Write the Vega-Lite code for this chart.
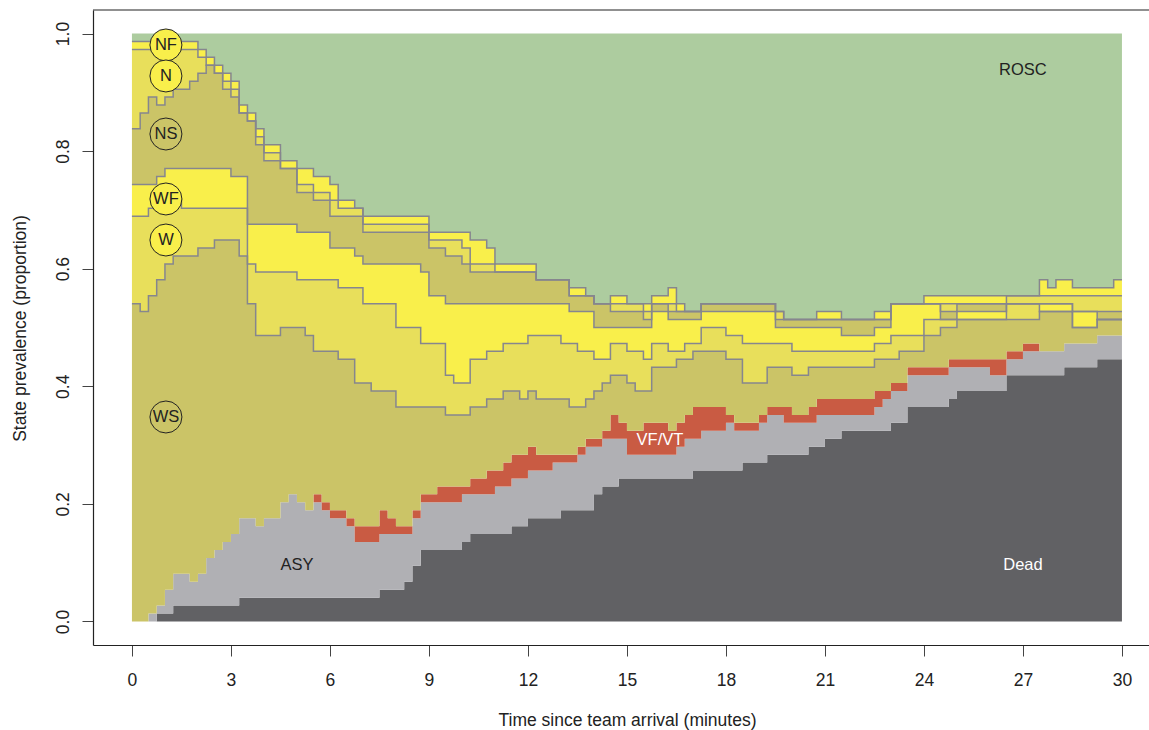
{
  "$schema": "https://vega.github.io/schema/vega-lite/v6.json",
  "width": 1056,
  "height": 635,
  "autosize": {"type": "none"},
  "padding": {"left": 93, "top": 10, "right": 0, "bottom": 85},
  "background": "white",
  "config": {"view": {"stroke": null}, "font": "Liberation Sans"},
  "datasets": {
    "prev": [
      {"t":0,"Dead":0,"ASY":0,"VF":0,"WS":40,"W":11,"WF":4,"NS":7,"N":10,"NF":1,"ROSC":1},
      {"t":0.25,"Dead":0,"ASY":0,"VF":0,"WS":39,"W":12,"WF":4,"NS":9,"N":8,"NF":1,"ROSC":1},
      {"t":0.5,"Dead":0,"ASY":1,"VF":0,"WS":40,"W":11,"WF":3,"NS":11,"N":6,"NF":1,"ROSC":1},
      {"t":0.75,"Dead":1,"ASY":1,"VF":0,"WS":41,"W":9,"WF":4,"NS":9,"N":7,"NF":1,"ROSC":1},
      {"t":1,"Dead":1,"ASY":3,"VF":0,"WS":41,"W":8,"WF":4,"NS":9,"N":6,"NF":1,"ROSC":1},
      {"t":1.25,"Dead":2,"ASY":4,"VF":0,"WS":40,"W":7,"WF":4,"NS":10,"N":5,"NF":1,"ROSC":1},
      {"t":1.5,"Dead":2,"ASY":4,"VF":0,"WS":40,"W":6,"WF":5,"NS":10,"N":5,"NF":1,"ROSC":1},
      {"t":1.75,"Dead":2,"ASY":3,"VF":0,"WS":41,"W":6,"WF":5,"NS":11,"N":4,"NF":1,"ROSC":1},
      {"t":2,"Dead":2,"ASY":4,"VF":0,"WS":41,"W":5,"WF":5,"NS":12,"N":2,"NF":1,"ROSC":2},
      {"t":2.25,"Dead":2,"ASY":6,"VF":0,"WS":39,"W":5,"WF":5,"NS":13,"N":0,"NF":1,"ROSC":3},
      {"t":2.5,"Dead":2,"ASY":7,"VF":0,"WS":39,"W":4,"WF":5,"NS":12,"N":0,"NF":1,"ROSC":4},
      {"t":2.75,"Dead":2,"ASY":8,"VF":0,"WS":38,"W":4,"WF":5,"NS":10,"N":1,"NF":1,"ROSC":5},
      {"t":3,"Dead":2,"ASY":9,"VF":0,"WS":37,"W":4,"WF":4,"NS":10,"N":1,"NF":1,"ROSC":6},
      {"t":3.25,"Dead":3,"ASY":10,"VF":0,"WS":33,"W":6,"WF":4,"NS":8,"N":0,"NF":1,"ROSC":9},
      {"t":3.5,"Dead":3,"ASY":10,"VF":0,"WS":27,"W":5,"WF":5,"NS":13,"N":0,"NF":1,"ROSC":10},
      {"t":3.75,"Dead":3,"ASY":9,"VF":0,"WS":24,"W":8,"WF":6,"NS":10,"N":1,"NF":1,"ROSC":12},
      {"t":4,"Dead":3,"ASY":10,"VF":0,"WS":23,"W":8,"WF":6,"NS":8,"N":1,"NF":1,"ROSC":14},
      {"t":4.5,"Dead":3,"ASY":12,"VF":0,"WS":22,"W":7,"WF":6,"NS":7,"N":0,"NF":1,"ROSC":16},
      {"t":4.75,"Dead":3,"ASY":13,"VF":0,"WS":21,"W":7,"WF":6,"NS":7,"N":0,"NF":1,"ROSC":16},
      {"t":5,"Dead":3,"ASY":12,"VF":0,"WS":22,"W":6,"WF":6,"NS":5,"N":1,"NF":2,"ROSC":17},
      {"t":5.25,"Dead":3,"ASY":11,"VF":0,"WS":22,"W":7,"WF":6,"NS":5,"N":1,"NF":2,"ROSC":17},
      {"t":5.5,"Dead":3,"ASY":12,"VF":1,"WS":18,"W":9,"WF":6,"NS":4,"N":1,"NF":2,"ROSC":18},
      {"t":5.75,"Dead":3,"ASY":11,"VF":1,"WS":19,"W":9,"WF":6,"NS":4,"N":1,"NF":2,"ROSC":18},
      {"t":6,"Dead":3,"ASY":10,"VF":1,"WS":20,"W":9,"WF":4,"NS":4,"N":2,"NF":2,"ROSC":19},
      {"t":6.25,"Dead":3,"ASY":10,"VF":1,"WS":19,"W":9,"WF":5,"NS":4,"N":1,"NF":1,"ROSC":21},
      {"t":6.5,"Dead":3,"ASY":9,"VF":1,"WS":20,"W":9,"WF":5,"NS":4,"N":1,"NF":1,"ROSC":21},
      {"t":6.75,"Dead":3,"ASY":7,"VF":2,"WS":18,"W":12,"WF":4,"NS":5,"N":1,"NF":0,"ROSC":22},
      {"t":7,"Dead":3,"ASY":7,"VF":2,"WS":18,"W":10,"WF":5,"NS":4,"N":1,"NF":1,"ROSC":23},
      {"t":7.25,"Dead":3,"ASY":7,"VF":2,"WS":17,"W":11,"WF":5,"NS":4,"N":1,"NF":1,"ROSC":23},
      {"t":7.5,"Dead":4,"ASY":7,"VF":3,"WS":15,"W":11,"WF":5,"NS":4,"N":1,"NF":1,"ROSC":23},
      {"t":7.75,"Dead":4,"ASY":7,"VF":2,"WS":16,"W":11,"WF":5,"NS":4,"N":1,"NF":1,"ROSC":23},
      {"t":8,"Dead":4,"ASY":7,"VF":1,"WS":15,"W":10,"WF":8,"NS":4,"N":1,"NF":1,"ROSC":23},
      {"t":8.25,"Dead":5,"ASY":6,"VF":1,"WS":15,"W":10,"WF":8,"NS":4,"N":1,"NF":1,"ROSC":23},
      {"t":8.5,"Dead":7,"ASY":6,"VF":1,"WS":13,"W":10,"WF":8,"NS":4,"N":1,"NF":1,"ROSC":23},
      {"t":8.75,"Dead":9,"ASY":6,"VF":1,"WS":11,"W":8,"WF":9,"NS":5,"N":1,"NF":1,"ROSC":23},
      {"t":9,"Dead":9,"ASY":6,"VF":1,"WS":11,"W":8,"WF":6,"NS":6,"N":1,"NF":1,"ROSC":25},
      {"t":9.25,"Dead":9,"ASY":6,"VF":2,"WS":10,"W":8,"WF":6,"NS":6,"N":1,"NF":1,"ROSC":25},
      {"t":9.5,"Dead":9,"ASY":6,"VF":2,"WS":9,"W":5,"WF":9,"NS":6,"N":2,"NF":1,"ROSC":25},
      {"t":9.75,"Dead":9,"ASY":6,"VF":2,"WS":9,"W":4,"WF":10,"NS":6,"N":2,"NF":1,"ROSC":25},
      {"t":10,"Dead":10,"ASY":6,"VF":1,"WS":9,"W":4,"WF":10,"NS":5,"N":2,"NF":2,"ROSC":25},
      {"t":10.25,"Dead":11,"ASY":5,"VF":2,"WS":9,"W":6,"WF":7,"NS":4,"N":1,"NF":3,"ROSC":26},
      {"t":10.75,"Dead":11,"ASY":5,"VF":3,"WS":9,"W":6,"WF":6,"NS":4,"N":1,"NF":2,"ROSC":27},
      {"t":11,"Dead":11,"ASY":6,"VF":2,"WS":9,"W":6,"WF":6,"NS":4,"N":0,"NF":1,"ROSC":29},
      {"t":11.25,"Dead":11,"ASY":6,"VF":3,"WS":9,"W":6,"WF":5,"NS":4,"N":0,"NF":1,"ROSC":29},
      {"t":11.5,"Dead":12,"ASY":6,"VF":3,"WS":8,"W":6,"WF":5,"NS":4,"N":0,"NF":1,"ROSC":29},
      {"t":11.75,"Dead":12,"ASY":6,"VF":3,"WS":7,"W":7,"WF":5,"NS":4,"N":0,"NF":1,"ROSC":29},
      {"t":12,"Dead":13,"ASY":6,"VF":3,"WS":7,"W":7,"WF":4,"NS":4,"N":0,"NF":1,"ROSC":29},
      {"t":12.25,"Dead":13,"ASY":6,"VF":2,"WS":7,"W":8,"WF":4,"NS":3,"N":0,"NF":0,"ROSC":31},
      {"t":12.75,"Dead":13,"ASY":7,"VF":1,"WS":7,"W":8,"WF":4,"NS":3,"N":0,"NF":0,"ROSC":31},
      {"t":13,"Dead":14,"ASY":6,"VF":1,"WS":7,"W":7,"WF":5,"NS":3,"N":0,"NF":0,"ROSC":31},
      {"t":13.25,"Dead":14,"ASY":6,"VF":1,"WS":6,"W":8,"WF":4,"NS":2,"N":0,"NF":1,"ROSC":32},
      {"t":13.5,"Dead":14,"ASY":7,"VF":1,"WS":5,"W":7,"WF":5,"NS":2,"N":0,"NF":1,"ROSC":32},
      {"t":13.75,"Dead":14,"ASY":8,"VF":1,"WS":5,"W":6,"WF":5,"NS":2,"N":0,"NF":0,"ROSC":33},
      {"t":14,"Dead":16,"ASY":6,"VF":1,"WS":6,"W":4,"WF":4,"NS":3,"N":0,"NF":0,"ROSC":34},
      {"t":14.25,"Dead":17,"ASY":6,"VF":1,"WS":6,"W":3,"WF":4,"NS":3,"N":0,"NF":0,"ROSC":34},
      {"t":14.5,"Dead":17,"ASY":6,"VF":3,"WS":5,"W":4,"WF":2,"NS":2,"N":1,"NF":1,"ROSC":33},
      {"t":14.75,"Dead":18,"ASY":5,"VF":2,"WS":6,"W":4,"WF":2,"NS":2,"N":1,"NF":1,"ROSC":33},
      {"t":15,"Dead":18,"ASY":3,"VF":3,"WS":6,"W":4,"WF":3,"NS":2,"N":1,"NF":0,"ROSC":34},
      {"t":15.25,"Dead":18,"ASY":3,"VF":3,"WS":5,"W":5,"WF":3,"NS":2,"N":1,"NF":0,"ROSC":34},
      {"t":15.5,"Dead":18,"ASY":3,"VF":4,"WS":4,"W":4,"WF":4,"NS":1,"N":1,"NF":1,"ROSC":34},
      {"t":15.75,"Dead":18,"ASY":3,"VF":4,"WS":7,"W":3,"WF":4,"NS":1,"N":0,"NF":1,"ROSC":33},
      {"t":16.25,"Dead":18,"ASY":3,"VF":3,"WS":8,"W":2,"WF":4,"NS":1,"N":1,"NF":2,"ROSC":32},
      {"t":16.5,"Dead":18,"ASY":4,"VF":3,"WS":8,"W":1,"WF":4,"NS":1,"N":0,"NF":1,"ROSC":34},
      {"t":16.75,"Dead":18,"ASY":5,"VF":3,"WS":7,"W":2,"WF":3,"NS":1,"N":0,"NF":0,"ROSC":35},
      {"t":17,"Dead":19,"ASY":4,"VF":4,"WS":7,"W":1,"WF":3,"NS":1,"N":0,"NF":0,"ROSC":35},
      {"t":17.25,"Dead":19,"ASY":5,"VF":3,"WS":7,"W":3,"WF":2,"NS":1,"N":0,"NF":0,"ROSC":34},
      {"t":18,"Dead":19,"ASY":6,"VF":1,"WS":7,"W":3,"WF":3,"NS":1,"N":0,"NF":0,"ROSC":34},
      {"t":18.25,"Dead":19,"ASY":5,"VF":1,"WS":8,"W":3,"WF":3,"NS":1,"N":0,"NF":0,"ROSC":34},
      {"t":18.5,"Dead":20,"ASY":4,"VF":1,"WS":5,"W":5,"WF":4,"NS":1,"N":0,"NF":0,"ROSC":34},
      {"t":19,"Dead":20,"ASY":5,"VF":1,"WS":4,"W":5,"WF":4,"NS":1,"N":0,"NF":0,"ROSC":34},
      {"t":19.25,"Dead":21,"ASY":5,"VF":1,"WS":5,"W":3,"WF":4,"NS":1,"N":0,"NF":0,"ROSC":34},
      {"t":19.5,"Dead":21,"ASY":5,"VF":1,"WS":5,"W":3,"WF":2,"NS":1,"N":1,"NF":0,"ROSC":35},
      {"t":19.75,"Dead":21,"ASY":4,"VF":2,"WS":5,"W":3,"WF":2,"NS":1,"N":0,"NF":0,"ROSC":36},
      {"t":20,"Dead":21,"ASY":4,"VF":1,"WS":5,"W":3,"WF":3,"NS":1,"N":0,"NF":0,"ROSC":36},
      {"t":20.5,"Dead":22,"ASY":3,"VF":2,"WS":5,"W":2,"WF":3,"NS":1,"N":0,"NF":0,"ROSC":36},
      {"t":20.75,"Dead":22,"ASY":4,"VF":2,"WS":4,"W":2,"WF":3,"NS":1,"N":0,"NF":1,"ROSC":35},
      {"t":21,"Dead":23,"ASY":3,"VF":2,"WS":4,"W":2,"WF":3,"NS":1,"N":0,"NF":1,"ROSC":35},
      {"t":21.5,"Dead":24,"ASY":2,"VF":2,"WS":4,"W":2,"WF":2,"NS":2,"N":0,"NF":0,"ROSC":36},
      {"t":22.5,"Dead":24,"ASY":3,"VF":2,"WS":4,"W":2,"WF":2,"NS":1,"N":0,"NF":1,"ROSC":35},
      {"t":22.75,"Dead":24,"ASY":4,"VF":1,"WS":4,"W":2,"WF":2,"NS":1,"N":0,"NF":1,"ROSC":35},
      {"t":23,"Dead":25,"ASY":4,"VF":1,"WS":3,"W":3,"WF":4,"NS":0,"N":0,"NF":0,"ROSC":34},
      {"t":23.25,"Dead":25,"ASY":4,"VF":1,"WS":4,"W":2,"WF":4,"NS":0,"N":0,"NF":0,"ROSC":34},
      {"t":23.5,"Dead":27,"ASY":4,"VF":1,"WS":2,"W":2,"WF":4,"NS":0,"N":0,"NF":0,"ROSC":34},
      {"t":24,"Dead":27,"ASY":4,"VF":1,"WS":4,"W":2,"WF":2,"NS":0,"N":0,"NF":1,"ROSC":33},
      {"t":24.5,"Dead":27,"ASY":4,"VF":1,"WS":5,"W":1,"WF":0,"NS":1,"N":1,"NF":1,"ROSC":33},
      {"t":24.75,"Dead":28,"ASY":4,"VF":1,"WS":4,"W":1,"WF":0,"NS":1,"N":1,"NF":1,"ROSC":33},
      {"t":25,"Dead":29,"ASY":3,"VF":1,"WS":5,"W":0,"WF":1,"NS":1,"N":0,"NF":1,"ROSC":33},
      {"t":26,"Dead":29,"ASY":2,"VF":2,"WS":5,"W":0,"WF":1,"NS":1,"N":0,"NF":1,"ROSC":33},
      {"t":26.5,"Dead":31,"ASY":2,"VF":1,"WS":4,"W":2,"WF":0,"NS":0,"N":1,"NF":0,"ROSC":33},
      {"t":27,"Dead":31,"ASY":3,"VF":1,"WS":3,"W":2,"WF":0,"NS":0,"N":1,"NF":0,"ROSC":33},
      {"t":27.5,"Dead":31,"ASY":3,"VF":0,"WS":5,"W":0,"WF":1,"NS":0,"N":1,"NF":2,"ROSC":31},
      {"t":27.75,"Dead":31,"ASY":3,"VF":0,"WS":5,"W":0,"WF":1,"NS":0,"N":1,"NF":1,"ROSC":32},
      {"t":28,"Dead":31,"ASY":3,"VF":0,"WS":5,"W":0,"WF":1,"NS":0,"N":1,"NF":2,"ROSC":31},
      {"t":28.25,"Dead":32,"ASY":3,"VF":0,"WS":4,"W":0,"WF":1,"NS":0,"N":1,"NF":2,"ROSC":31},
      {"t":28.5,"Dead":32,"ASY":3,"VF":0,"WS":2,"W":0,"WF":2,"NS":0,"N":2,"NF":1,"ROSC":32},
      {"t":29.25,"Dead":33,"ASY":3,"VF":0,"WS":2,"W":0,"WF":0,"NS":1,"N":2,"NF":1,"ROSC":32},
      {"t":29.75,"Dead":33,"ASY":3,"VF":0,"WS":2,"W":0,"WF":0,"NS":1,"N":2,"NF":2,"ROSC":31},
      {"t":30,"Dead":33,"ASY":3,"VF":0,"WS":2,"W":0,"WF":0,"NS":1,"N":2,"NF":2,"ROSC":31}
    ],
    "stateOrder": [
      {"state":"Dead","rank":1},{"state":"ASY","rank":2},{"state":"VF","rank":3},
      {"state":"WS","rank":4},{"state":"W","rank":5},{"state":"WF","rank":6},
      {"state":"NS","rank":7},{"state":"N","rank":8},{"state":"NF","rank":9},{"state":"ROSC","rank":10}
    ]
  },
  "encoding": {
    "x": {"type": "quantitative",
      "scale": {"domain": [-1.18, 30.82], "nice": false, "zero": false},
      "axis": {"values": [0,3,6,9,12,15,18,21,24,27,30], "title": "Time since team arrival (minutes)",
        "grid": false, "domain": true, "domainColor": "#222", "domainWidth": 1.2,
        "ticks": true, "tickSize": 11, "tickColor": "#444", "tickWidth": 1,
        "labelFontSize": 17.5, "labelColor": "#222", "labelPadding": 15, "labelBaseline": "top", "labelFlush": false,
        "titleFontSize": 17.5, "titleFontWeight": "normal", "titleColor": "#222",
        "titleX": 534, "titleY": 80, "titleBaseline": "alphabetic", "titleAnchor": "middle", "titleAlign": "center"}},
    "y": {"type": "quantitative",
      "scale": {"domain": [-0.04, 1.04], "nice": false, "zero": false},
      "axis": {"values": [0,0.2,0.4,0.6,0.8,1], "format": ".1f", "title": "State prevalence (proportion)",
        "grid": false, "domain": true, "domainColor": "#222", "domainWidth": 1.2,
        "ticks": true, "tickSize": 11, "tickColor": "#444", "tickWidth": 1,
        "labelFontSize": 17.5, "labelColor": "#222", "labelPadding": 14, "labelAngle": 270, "labelAlign": "center", "labelBaseline": "alphabetic",
        "titleFontSize": 17.5, "titleFontWeight": "normal", "titleColor": "#222",
        "titleX": -68, "titleY": 318, "titleAngle": 270, "titleBaseline": "alphabetic", "titleAlign": "center"}}
  },
  "layer": [
    {
      "data": {"name": "prev"},
      "transform": [
        {"fold": ["Dead","ASY","VF","WS","W","WF","NS","N","NF","ROSC"], "as": ["state","count"]},
        {"lookup": "state", "from": {"data": {"name": "stateOrder"}, "key": "state", "fields": ["rank"]}},
        {"stack": "count", "groupby": ["t"], "sort": [{"field": "rank", "order": "ascending"}], "offset": "normalize", "as": ["y0","y1"]}
      ],
      "mark": {"type": "area", "interpolate": "step-after"},
      "encoding": {
        "x": {"field": "t", "type": "quantitative"},
        "y": {"field": "y1", "type": "quantitative"},
        "y2": {"field": "y0"},
        "color": {"field": "state", "type": "nominal", "legend": null,
          "scale": {"domain": ["Dead","ASY","VF","WS","W","WF","NS","N","NF","ROSC"],
            "range": ["#616164","#b0b0b4","#c95b43","#cbc467","#e8df5b","#f9ef4b","#cbc467","#e8df5b","#f9ef4b","#adcc9f"]}}
      }
    },
    {
      "data": {"name": "prev"},
      "transform": [
        {"fold": ["Dead","ASY","VF","WS","W","WF","NS","N","NF","ROSC"], "as": ["state","count"]},
        {"lookup": "state", "from": {"data": {"name": "stateOrder"}, "key": "state", "fields": ["rank"]}},
        {"stack": "count", "groupby": ["t"], "sort": [{"field": "rank", "order": "ascending"}], "offset": "normalize", "as": ["y0","y1"]},
        {"filter": {"field": "state", "oneOf": ["WS","W","WF","NS","N","NF"]}}
      ],
      "mark": {"type": "line", "interpolate": "step-after", "color": "#86868e", "strokeWidth": 1.5},
      "encoding": {
        "x": {"field": "t", "type": "quantitative"},
        "y": {"field": "y1", "type": "quantitative"},
        "detail": {"field": "state", "type": "nominal"}
      }
    },
    {
      "data": {"values": [{}]},
      "mark": {"type": "rule", "color": "#222", "strokeWidth": 1.2},
      "encoding": {"x": null, "y": {"datum": 1.04}}
    },
    {
      "data": {"values": [{}]},
      "mark": {"type": "point", "shape": "circle", "size": 1024, "filled": true, "fill": "#f9ef4b", "stroke": "#222", "strokeWidth": 1, "opacity": 1},
      "encoding": {"x": {"datum": 1.03}, "y": {"datum": 0.9805}}
    },
    {
      "data": {"values": [{}]},
      "mark": {"type": "point", "shape": "circle", "size": 1024, "filled": true, "fill": "#f9ef4b", "stroke": "#222", "strokeWidth": 1, "opacity": 1},
      "encoding": {"x": {"datum": 1.03}, "y": {"datum": 0.9278}}
    },
    {
      "data": {"values": [{}]},
      "mark": {"type": "point", "shape": "circle", "size": 1024, "filled": true, "fill": "#cbc467", "stroke": "#222", "strokeWidth": 1, "opacity": 1},
      "encoding": {"x": {"datum": 1.03}, "y": {"datum": 0.8291}}
    },
    {
      "data": {"values": [{}]},
      "mark": {"type": "point", "shape": "circle", "size": 1024, "filled": true, "fill": "#f9ef4b", "stroke": "#222", "strokeWidth": 1, "opacity": 1},
      "encoding": {"x": {"datum": 1.03}, "y": {"datum": 0.7186}}
    },
    {
      "data": {"values": [{}]},
      "mark": {"type": "point", "shape": "circle", "size": 1024, "filled": true, "fill": "#f9ef4b", "stroke": "#222", "strokeWidth": 1, "opacity": 1},
      "encoding": {"x": {"datum": 1.03}, "y": {"datum": 0.6488}}
    },
    {
      "data": {"values": [{}]},
      "mark": {"type": "point", "shape": "circle", "size": 1024, "filled": true, "fill": "#cbc467", "stroke": "#222", "strokeWidth": 1, "opacity": 1},
      "encoding": {"x": {"datum": 1.03}, "y": {"datum": 0.3478}}
    },
    {
      "data": {"values": [{}]},
      "mark": {"type": "text", "fontSize": 16.5, "color": "#222", "align": "center", "baseline": "middle"},
      "encoding": {"x": {"datum": 1.03}, "y": {"datum": 0.9805}, "text": {"value": "NF"}}
    },
    {
      "data": {"values": [{}]},
      "mark": {"type": "text", "fontSize": 16.5, "color": "#222", "align": "center", "baseline": "middle"},
      "encoding": {"x": {"datum": 1.03}, "y": {"datum": 0.9278}, "text": {"value": "N"}}
    },
    {
      "data": {"values": [{}]},
      "mark": {"type": "text", "fontSize": 16.5, "color": "#222", "align": "center", "baseline": "middle"},
      "encoding": {"x": {"datum": 1.03}, "y": {"datum": 0.8291}, "text": {"value": "NS"}}
    },
    {
      "data": {"values": [{}]},
      "mark": {"type": "text", "fontSize": 16.5, "color": "#222", "align": "center", "baseline": "middle"},
      "encoding": {"x": {"datum": 1.03}, "y": {"datum": 0.7186}, "text": {"value": "WF"}}
    },
    {
      "data": {"values": [{}]},
      "mark": {"type": "text", "fontSize": 16.5, "color": "#222", "align": "center", "baseline": "middle"},
      "encoding": {"x": {"datum": 1.03}, "y": {"datum": 0.6488}, "text": {"value": "W"}}
    },
    {
      "data": {"values": [{}]},
      "mark": {"type": "text", "fontSize": 16.5, "color": "#222", "align": "center", "baseline": "middle"},
      "encoding": {"x": {"datum": 1.03}, "y": {"datum": 0.3478}, "text": {"value": "WS"}}
    },
    {
      "data": {"values": [{}]},
      "mark": {"type": "text", "fontSize": 16.5, "color": "#222", "align": "center", "baseline": "middle"},
      "encoding": {"x": {"datum": 27.0}, "y": {"datum": 0.938}, "text": {"value": "ROSC"}}
    },
    {
      "data": {"values": [{}]},
      "mark": {"type": "text", "fontSize": 16.5, "color": "#ffffff", "align": "center", "baseline": "middle"},
      "encoding": {"x": {"datum": 16.0}, "y": {"datum": 0.3087}, "text": {"value": "VF/VT"}}
    },
    {
      "data": {"values": [{}]},
      "mark": {"type": "text", "fontSize": 16.5, "color": "#222", "align": "center", "baseline": "middle"},
      "encoding": {"x": {"datum": 5.0}, "y": {"datum": 0.096}, "text": {"value": "ASY"}}
    },
    {
      "data": {"values": [{}]},
      "mark": {"type": "text", "fontSize": 16.5, "color": "#ffffff", "align": "center", "baseline": "middle"},
      "encoding": {"x": {"datum": 27.0}, "y": {"datum": 0.096}, "text": {"value": "Dead"}}
    }
  ]
}
